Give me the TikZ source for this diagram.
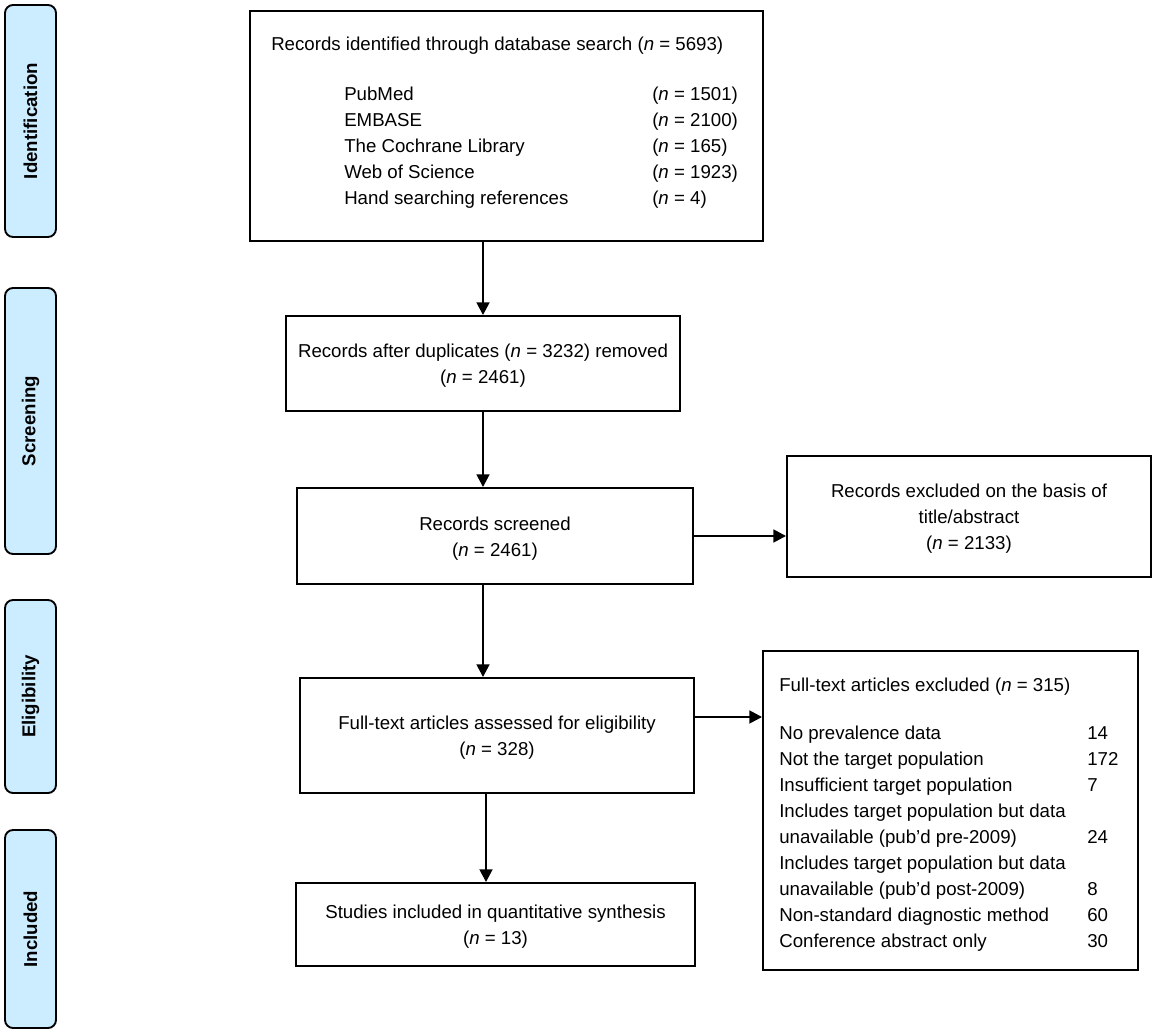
\documentclass[tikz,border=0pt]{standalone}
\usepackage{fontspec}
\setmainfont{Liberation Sans}
\usetikzlibrary{arrows.meta,fit}
\definecolor{sideblue}{RGB}{204,236,255}
\begin{document}
\begin{tikzpicture}[x=0.75pt,y=-0.75pt,
  every node/.style={font=\fontsize{14}{19.5}\selectfont},
  box/.style={draw=black, line width=1.4pt, inner sep=0pt},
  btext/.style={inner sep=0pt, align=center},
  side/.style={draw=black, line width=1.4pt, fill=sideblue, rounded corners=6pt, inner sep=0pt},
  sidetext/.style={rotate=90, inner sep=0pt, font=\fontsize{14}{16}\selectfont\bfseries},
  txt/.style={inner sep=0pt, anchor=west, text height=11pt, text depth=2pt},
  arr/.style={line width=1.9pt, -{Triangle[length=9.5pt,width=9.5pt]}}]
\useasboundingbox (0,0) rectangle (1157,1034);

% phase labels
\node[side, fit={(5,5) (56,237)}] (s1) {};
\node[sidetext] (l1) at (s1) {Identification};
\node[side, fit={(5,288) (56,554)}] (s2) {};
\node[sidetext] (l2) at (s2) {Screening};
\node[side, fit={(5,600) (56,793)}] (s3) {};
\node[sidetext] (l3) at (s3) {Eligibility};
\node[side, fit={(5,830) (56,1028)}] (s4) {};
\node[sidetext] (l4) at (s4) {Included};

% box 1
\node[box, fit={(250,11) (763,241)}] (b1) {};
\node[txt] (t1) at (271,45) {Records identified through database search (\textit{n} = 5693)};
\node[txt] (i1) at (344,95) {PubMed};
\node[txt] (n1) at (652,95) {(\textit{n} = 1501)};
\node[txt] (i2) at (344,121) {EMBASE};
\node[txt] (n2) at (652,121) {(\textit{n} = 2100)};
\node[txt] (i3) at (344,147) {The Cochrane Library};
\node[txt] (n3) at (652,147) {(\textit{n} = 165)};
\node[txt] (i4) at (344,173) {Web of Science};
\node[txt] (n4) at (652,173) {(\textit{n} = 1923)};
\node[txt] (i5) at (344,199) {Hand searching references};
\node[txt] (n5) at (652,199) {(\textit{n} = 4)};

% boxes 2-5, 7
\node[box, fit={(286,316) (680,411)}] (b2) {};
\node[btext] (b2t) at ([yshift=-1.75pt]b2.center) {Records after duplicates (\textit{n} = 3232) removed\\(\textit{n} = 2461)};
\node[box, fit={(297,488) (693,584)}] (b3) {};
\node[btext] (b3t) at ([yshift=-1.75pt]b3.center) {Records screened\\(\textit{n} = 2461)};
\node[box, fit={(787,456) (1151,577)}] (b4) {};
\node[btext] (b4t) at ([yshift=-1.5pt]b4.center) {Records excluded on the basis of\\title/abstract\\(\textit{n} = 2133)};
\node[box, fit={(300,678) (694,793)}] (b5) {};
\node[btext] (b5t) at ([yshift=-1.75pt]b5.center) {Full-text articles assessed for eligibility\\(\textit{n} = 328)};
\node[box, fit={(296,883) (695,966)}] (b7) {};
\node[btext] (b7t) at ([yshift=-1.25pt]b7.center) {Studies included in quantitative synthesis\\(\textit{n} = 13)};

% box 6
\node[box, fit={(763,651) (1138,970)}] (b6) {};
\node[txt] (e0) at (779,685) {Full-text articles excluded (\textit{n} = 315)};
\node[txt] (e1) at (779,733) {No prevalence data};
\node[txt] (m1) at (1087,733) {14};
\node[txt] (e2) at (779,759) {Not the target population};
\node[txt] (m2) at (1087,759) {172};
\node[txt] (e3) at (779,785) {Insufficient target population};
\node[txt] (m3) at (1087,785) {7};
\node[txt] (e4) at (779,811) {Includes target population but data};
\node[txt] (e5) at (779,837) {unavailable (pub\textquoteright d pre-2009)};
\node[txt] (m5) at (1087,837) {24};
\node[txt] (e6) at (779,863) {Includes target population but data};
\node[txt] (e7) at (779,889) {unavailable (pub\textquoteright d post-2009)};
\node[txt] (m7) at (1087,889) {8};
\node[txt] (e8) at (779,915) {Non-standard diagnostic method};
\node[txt] (m8) at (1087,915) {60};
\node[txt] (e9) at (779,941) {Conference abstract only};
\node[txt] (m9) at (1087,941) {30};

% connectors
\coordinate (spine) at (483,0);
\coordinate (spineb) at (486,0);
\coordinate (row6) at (0,717);
\draw[arr] (b1.south -| spine) -- (b2.north -| spine);
\draw[arr] (b2.south -| spine) -- (b3.north -| spine);
\draw[arr] (b3.south -| spine) -- (b5.north -| spine);
\draw[arr] (b5.south -| spineb) -- (b7.north -| spineb);
\draw[arr] (b3.east) -- (b3.east -| b4.west);
\draw[arr] (b5.east |- row6) -- (b6.west |- row6);
\end{tikzpicture}
\end{document}
